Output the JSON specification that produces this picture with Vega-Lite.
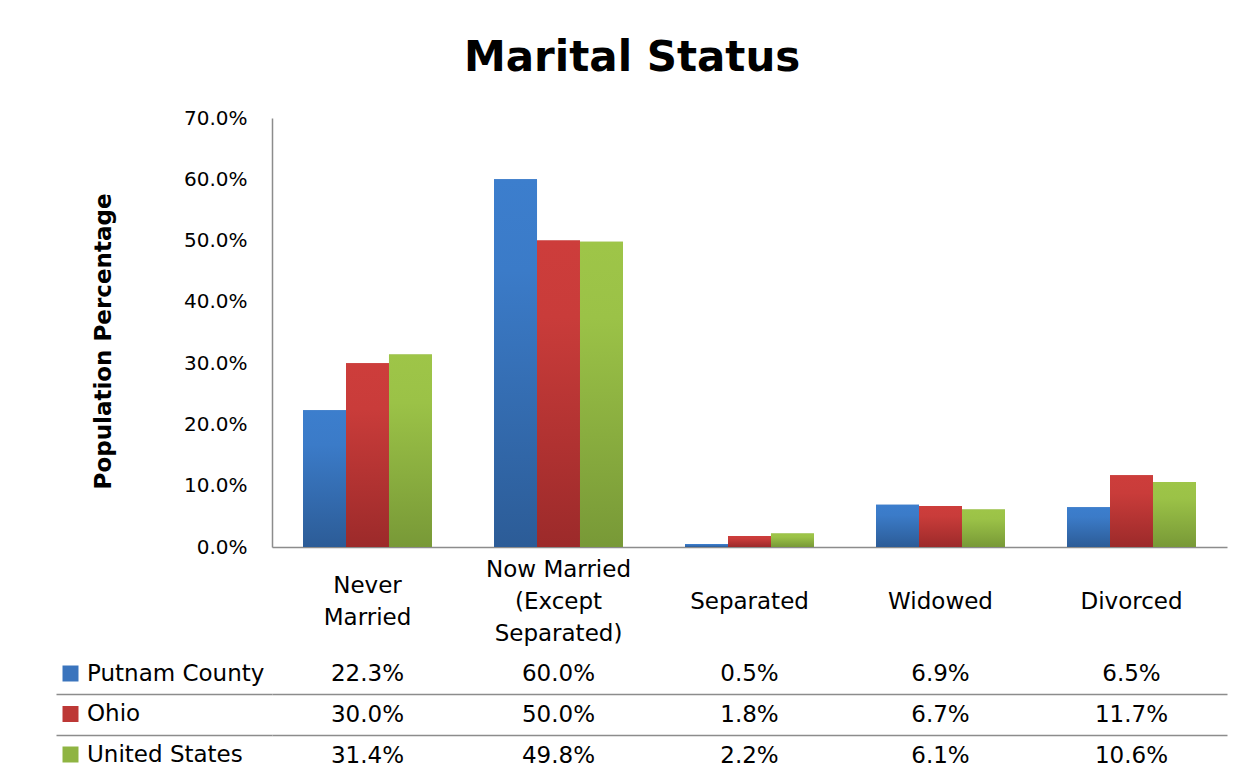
{
  "$schema": "https://vega.github.io/schema/vega-lite/v6.json",
  "padding": {"left": 55, "top": 37, "right": 20, "bottom": 5},
  "background": "white",
  "title": {"text": "Marital Status", "fontSize": 42, "font": "DejaVu Sans", "fontWeight": "bold", "anchor": "middle", "color": "black", "offset": 28, "dx": -9},
  "data": {"values": [
    {"cat": "Never Married", "series": "Putnam County", "value": 0.223},
    {"cat": "Now Married (Except Separated)", "series": "Putnam County", "value": 0.600},
    {"cat": "Separated", "series": "Putnam County", "value": 0.005},
    {"cat": "Widowed", "series": "Putnam County", "value": 0.069},
    {"cat": "Divorced", "series": "Putnam County", "value": 0.065},
    {"cat": "Never Married", "series": "Ohio", "value": 0.300},
    {"cat": "Now Married (Except Separated)", "series": "Ohio", "value": 0.500},
    {"cat": "Separated", "series": "Ohio", "value": 0.018},
    {"cat": "Widowed", "series": "Ohio", "value": 0.067},
    {"cat": "Divorced", "series": "Ohio", "value": 0.117},
    {"cat": "Never Married", "series": "United States", "value": 0.314},
    {"cat": "Now Married (Except Separated)", "series": "United States", "value": 0.498},
    {"cat": "Separated", "series": "United States", "value": 0.022},
    {"cat": "Widowed", "series": "United States", "value": 0.061},
    {"cat": "Divorced", "series": "United States", "value": 0.106}
  ]},
  "spacing": 8,
  "vconcat": [
    {
      "width": 955,
      "height": 429,
      "encoding": {
        "x": {
          "field": "cat", "type": "nominal",
          "sort": ["Never Married", "Now Married (Except Separated)", "Separated", "Widowed", "Divorced"],
          "scale": {"paddingInner": 0.325, "paddingOuter": 0.1625},
          "axis": {
            "title": null, "ticks": false, "domainColor": "#8c8c8c", "domainWidth": 1.5,
            "labelAngle": 0, "labelFontSize": 23, "labelColor": "black", "labelFont": "DejaVu Sans",
            "labelBaseline": {"condition": [{"test": "datum.value == 'Now Married (Except Separated)'", "value": "line-bottom"}, {"test": "datum.value == 'Never Married'", "value": "middle"}], "value": "line-top"},
            "labelPadding": 38, "labelLineHeight": 32, "labelOverlap": false, "labelLimit": 300,
            "labelExpr": "datum.value == 'Never Married' ? ['Never', 'Married'] : datum.value == 'Now Married (Except Separated)' ? ['Now Married', '(Except', 'Separated)'] : datum.value"
          }
        },
        "xOffset": {"field": "series", "type": "nominal", "sort": ["Putnam County", "Ohio", "United States"], "scale": {"domain": ["Putnam County", "Ohio", "United States"], "paddingInner": 0, "paddingOuter": 0}},
        "y": {
          "field": "value", "type": "quantitative",
          "scale": {"domain": [0, 0.7], "nice": false},
          "axis": {
            "title": "Population Percentage", "titleFontSize": 23, "titleFont": "DejaVu Sans", "titleFontWeight": "bold", "titleColor": "black", "titlePadding": 68, "titleY": 223,
            "values": [0, 0.1, 0.2, 0.3, 0.4, 0.5, 0.6, 0.7], "format": ".1%",
            "labelFontSize": 20, "labelColor": "black", "labelFont": "DejaVu Sans", "labelPadding": 25,
            "ticks": false, "grid": false, "domainColor": "#8c8c8c", "domainWidth": 1.5
          }
        }
      },
      "layer": [
        {
          "mark": {"type": "bar"},
          "encoding": {
            "color": {
              "field": "series", "type": "nominal", "sort": ["Putnam County", "Ohio", "United States"],
              "scale": {"domain": ["Putnam County", "Ohio", "United States"], "range": ["#3a74bd", "#bd3836", "#8fb442"]},
              "legend": {
                "title": null, "orient": "none", "legendX": -213, "legendY": 544,
                "symbolType": "square", "symbolSize": 256, "symbolStrokeWidth": 0, "symbolOpacity": 1,
                "labelFontSize": 23, "labelFont": "DejaVu Sans", "labelColor": "black", "labelOffset": 5, "labelLimit": 400,
                "rowPadding": 16.5, "padding": 0
              }
            }
          }
        },
        {
          "transform": [{"filter": "datum.series == 'Putnam County'"}],
          "mark": {"type": "bar", "fill": {"gradient": "linear", "x1": 0, "y1": 0, "x2": 0, "y2": 1, "stops": [{"offset": 0, "color": "#3c7ecd"}, {"offset": 0.25, "color": "#3b7bc8"}, {"offset": 1, "color": "#2c5c97"}]}}
        },
        {
          "transform": [{"filter": "datum.series == 'Ohio'"}],
          "mark": {"type": "bar", "fill": {"gradient": "linear", "x1": 0, "y1": 0, "x2": 0, "y2": 1, "stops": [{"offset": 0, "color": "#cd3d3b"}, {"offset": 0.25, "color": "#c93c3a"}, {"offset": 1, "color": "#9c2a2a"}]}}
        },
        {
          "transform": [{"filter": "datum.series == 'United States'"}],
          "mark": {"type": "bar", "fill": {"gradient": "linear", "x1": 0, "y1": 0, "x2": 0, "y2": 1, "stops": [{"offset": 0, "color": "#9ec548"}, {"offset": 0.25, "color": "#9bc247"}, {"offset": 1, "color": "#789937"}]}}
        }
      ]
    },
    {
      "width": 955,
      "height": 123,
      "mark": {"type": "text", "fontSize": 23, "font": "DejaVu Sans", "color": "black"},
      "encoding": {
        "x": {
          "field": "cat", "type": "nominal",
          "sort": ["Never Married", "Now Married (Except Separated)", "Separated", "Widowed", "Divorced"],
          "scale": {"paddingInner": 0.325, "paddingOuter": 0.1625},
          "axis": null
        },
        "y": {
          "field": "series", "type": "nominal", "sort": ["Putnam County", "Ohio", "United States"],
          "scale": {"paddingInner": 0, "paddingOuter": 0},
          "axis": {
            "title": null, "labels": false, "domain": false,
            "values": ["Ohio", "United States"], "tickOffset": -20.5,
            "ticks": true, "tickSize": 216, "tickColor": "#8c8c8c", "tickWidth": 1.5,
            "grid": true, "gridColor": "#8c8c8c", "gridWidth": 1.5, "gridOpacity": 1
          }
        },
        "text": {"field": "value", "type": "quantitative", "format": ".1%"}
      }
    }
  ],
  "config": {
    "view": {"stroke": null},
    "font": "DejaVu Sans"
  }
}
